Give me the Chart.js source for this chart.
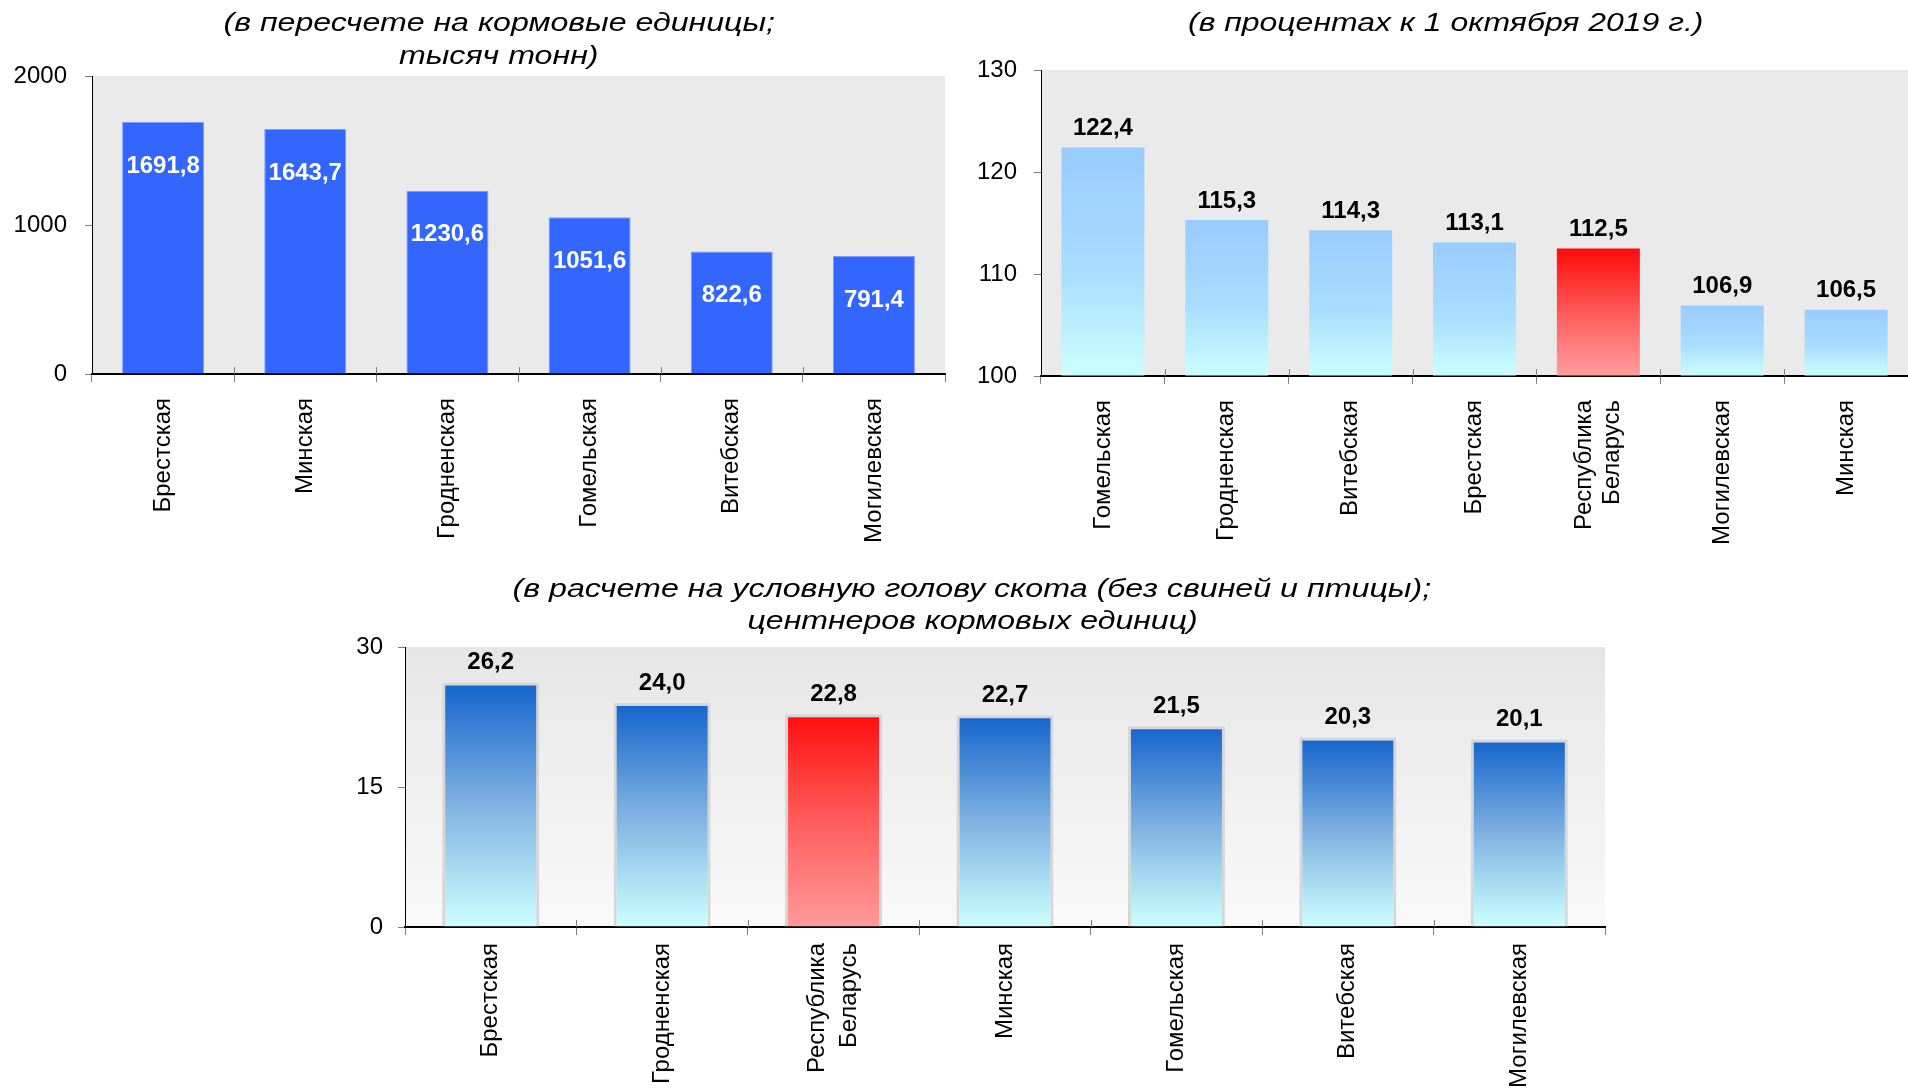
<!DOCTYPE html>
<html>
<head>
<meta charset="utf-8">
<script src="https://cdn.jsdelivr.net/npm/chart.js@4.4.0/dist/chart.umd.min.js"></script>
<style>
html,body{margin:0;padding:0;background:#fff;width:1908px;height:1089px;overflow:hidden;position:relative;}
canvas{position:absolute;}
.t{position:absolute;white-space:nowrap;font-family:'Liberation Sans',Arial,sans-serif;font-style:italic;font-size:26px;line-height:33px;color:#000;transform-origin:center top;z-index:2;}
</style>
</head>
<body>
<canvas id="c1" width="960" height="560" style="left:0;top:0"></canvas>
<canvas id="c2" width="948" height="560" style="left:960px;top:0"></canvas>
<canvas id="c3" width="1300" height="529" style="left:320px;top:560px"></canvas>
<div class="t" id="t1a"></div>
<div class="t" id="t1b"></div>
<div class="t" id="t2a"></div>
<div class="t" id="t3a"></div>
<div class="t" id="t3b"></div>
<script>
// ---------- DATA ----------
const title1 = ['(в пересчете на кормовые единицы;', 'тысяч тонн)'];
const categories1 = ['Брестская', 'Минская', 'Гродненская', 'Гомельская', 'Витебская', 'Могилевская'];
const values1 = [1691.8, 1643.7, 1230.6, 1051.6, 822.6, 791.4];
const yTicks1 = [0, 1000, 2000];

const title2 = ['(в процентах к 1 октября 2019 г.)'];
const categories2 = ['Гомельская', 'Гродненская', 'Витебская', 'Брестская', 'Республика Беларусь', 'Могилевская', 'Минская'];
const values2 = [122.4, 115.3, 114.3, 113.1, 112.5, 106.9, 106.5];
const yTicks2 = [100, 110, 120, 130];

const title3 = ['(в расчете на условную голову скота (без свиней и птицы);', 'центнеров кормовых единиц)'];
const categories3 = ['Брестская', 'Гродненская', 'Республика Беларусь', 'Минская', 'Гомельская', 'Витебская', 'Могилевская'];
const values3 = [26.2, 24.0, 22.8, 22.7, 21.5, 20.3, 20.1];
const yTicks3 = [0, 15, 30];

const highlight = 'Республика Беларусь';

// ---------- HELPERS ----------
const FONT = "'Liberation Sans', Arial, sans-serif";
const fmt = v => v.toFixed(1).replace('.', ',');

function vGrad(chart, value, stops) {
  const {ctx, chartArea, scales} = chart;
  if (!chartArea) return stops[0][1];
  const y = scales.y;
  const top = y.getPixelForValue(value);
  const bottom = y.getPixelForValue(y.min);
  const g = ctx.createLinearGradient(0, top, 0, bottom);
  stops.forEach(([o, c]) => g.addColorStop(o, c));
  return g;
}

const areaBg = {
  id: 'areaBg',
  beforeDraw(chart, args, opts) {
    const {ctx, chartArea: a} = chart;
    ctx.save();
    if (opts.top) {
      const g = ctx.createLinearGradient(0, a.top, 0, a.bottom);
      g.addColorStop(0, opts.top);
      g.addColorStop(1, opts.bottom);
      ctx.fillStyle = g;
    } else {
      ctx.fillStyle = opts.color;
    }
    ctx.fillRect(a.left, a.top, a.right - a.left, a.bottom - a.top);
    ctx.restore();
  },
  afterDraw(chart) {
    // small upward part of the category tick marks (they cross the axis)
    const {ctx, chartArea: a, scales: {x}} = chart;
    ctx.save();
    ctx.strokeStyle = '#7f7f7f';
    ctx.lineWidth = 1;
    const n = x.ticks.length;
    const step = (a.right - a.left) / n;
    for (let i = 1; i < n; i++) {
      const px = Math.round(x.getPixelForTick(i) - step / 2) + 0.5;
      ctx.beginPath();
      ctx.moveTo(px, a.bottom);
      ctx.lineTo(px, a.bottom - 7);
      ctx.stroke();
    }
    ctx.restore();
  }
};

const centerMultiLine = {
  id: 'centerMultiLine',
  beforeDraw(chart) {
    const items = chart.scales.x.getLabelItems();
    items.forEach(it => {
      if (Array.isArray(it.label) && !it._centered) {
        it.options.translation[0] -= (it.label.length - 1) * it.font.lineHeight / 2;
        it._centered = true;
      }
    });
  }
};

const valueLabels = {
  id: 'valueLabels',
  afterDatasetsDraw(chart, args, opts) {
    const ctx = chart.ctx;
    const meta = chart.getDatasetMeta(0);
    const data = chart.data.datasets[0].data;
    ctx.save();
    ctx.font = 'bold ' + opts.size + 'px ' + FONT;
    ctx.fillStyle = opts.color;
    ctx.textAlign = 'center';
    ctx.textBaseline = 'middle';
    meta.data.forEach((bar, i) => {
      ctx.fillText(fmt(data[i]), bar.x, bar.y + opts.offset);
    });
    ctx.restore();
  }
};

function xLabelCb(v) {
  const l = this.getLabelForValue(v);
  return l.indexOf(' ') >= 0 ? l.split(' ') : l;
}

function makeChart(id, cfg) {
  return new Chart(document.getElementById(id), {
    type: 'bar',
    data: {
      labels: cfg.labels,
      datasets: [cfg.dataset]
    },
    plugins: [areaBg, centerMultiLine, valueLabels],
    options: {
      responsive: false,
      animation: false,
      layout: {padding: cfg.padding},
      plugins: {
        legend: {display: false},
        tooltip: {enabled: false},
        title: {display: false},
        areaBg: cfg.bg,
        valueLabels: cfg.vl
      },
      scales: {
        x: {
          offset: true,
          grid: {offset: true, drawOnChartArea: false, color: '#7f7f7f', tickLength: 8, lineWidth: 1},
          border: {color: '#000', width: 2},
          ticks: {
            autoSkip: false, maxRotation: 90, minRotation: 90,
            padding: cfg.xPad, color: '#000',
            font: {family: FONT, size: 24, lineHeight: cfg.xLh},
            callback: xLabelCb
          },
          afterFit: s => { s.height = cfg.xH; }
        },
        y: {
          min: cfg.yTicks[0],
          max: cfg.yTicks[cfg.yTicks.length - 1],
          afterBuildTicks: s => { s.ticks = cfg.yTicks.map(v => ({value: v})); },
          grid: {drawOnChartArea: false, color: '#7f7f7f', tickLength: 7},
          border: {color: '#000', width: 1},
          ticks: {
            padding: cfg.yPad, color: '#000',
            font: {family: FONT, size: 24},
            callback: v => String(v)
          },
          afterFit: s => { s.width = cfg.yW; }
        }
      }
    }
  });
}

// ---------- CHART 1 ----------
makeChart('c1', {
  labels: categories1,
  yTicks: yTicks1,
  padding: {top: 76, right: 15, left: 0, bottom: 0},
  xH: 186, yW: 92, xPad: 16, yPad: 18, xLh: 1.2,
  bg: {color: '#EAEAEA'},
  vl: {color: '#FFFFFF', offset: 44, size: 24},
  dataset: {
    data: values1,
    backgroundColor: '#3366FF',
    borderColor: '#7F9BFF',
    borderWidth: 1,
    barPercentage: 0.577,
    categoryPercentage: 1
  }
});

// ---------- CHART 2 ----------
makeChart('c2', {
  labels: categories2,
  yTicks: yTicks2,
  padding: {top: 70, right: 0, left: 0, bottom: 0},
  xH: 184, yW: 81, xPad: 16, yPad: 17, xLh: 1.2,
  bg: {color: '#EAEAEA'},
  vl: {color: '#000000', offset: -19, size: 24},
  dataset: {
    data: values2,
    base: yTicks2[0],
    clip: 0,
    backgroundColor: c => {
      const red = categories2[c.dataIndex] === highlight;
      return vGrad(c.chart, c.raw, red
        ? [[0, '#FF0A0A'], [0.5, '#FF5A5A'], [1, '#FF9E9E']]
        : [[0, '#99CCFF'], [0.55, '#A9DDFF'], [1, '#CCFFFF']]);
    },
    borderWidth: 0,
    barPercentage: 0.67,
    categoryPercentage: 1
  }
});

// ---------- CHART 3 ----------
makeChart('c3', {
  labels: categories3,
  yTicks: yTicks3,
  padding: {top: 87, right: 15, left: 0, bottom: 0},
  xH: 162, yW: 85, xPad: 8, yPad: 15, xLh: 1.35,
  bg: {top: '#E6E6E6', bottom: '#F9F9F9'},
  vl: {color: '#000000', offset: -20, size: 24},
  dataset: {
    data: values3,
    clip: 0,
    backgroundColor: c => {
      const red = categories3[c.dataIndex] === highlight;
      return vGrad(c.chart, c.raw, red
        ? [[0, '#FF0E0E'], [0.5, '#FF5C5C'], [1, '#FF9A9A']]
        : [[0, '#1464CC'], [0.5, '#80B2E2'], [1, '#CCFFFF']]);
    },
    borderColor: '#D6D6D6',
    borderWidth: 3,
    barPercentage: 0.566,
    categoryPercentage: 1
  }
});

// ---------- TITLES (HTML text) ----------
function placeTitle(id, text, cx, top, targetW) {
  const el = document.getElementById(id);
  el.textContent = text;
  const w = el.offsetWidth;
  el.style.left = (cx - w / 2) + 'px';
  el.style.top = top + 'px';
  el.style.transform = 'scaleX(' + (targetW / w) + ')';
}
placeTitle('t1a', title1[0], 499, 6, 552);
placeTitle('t1b', title1[1], 498, 39, 199);
placeTitle('t2a', title2[0], 1446, 6, 516);
placeTitle('t3a', title3[0], 972, 572, 919);
placeTitle('t3b', title3[1], 972, 604, 450);
</script>
</body>
</html>
